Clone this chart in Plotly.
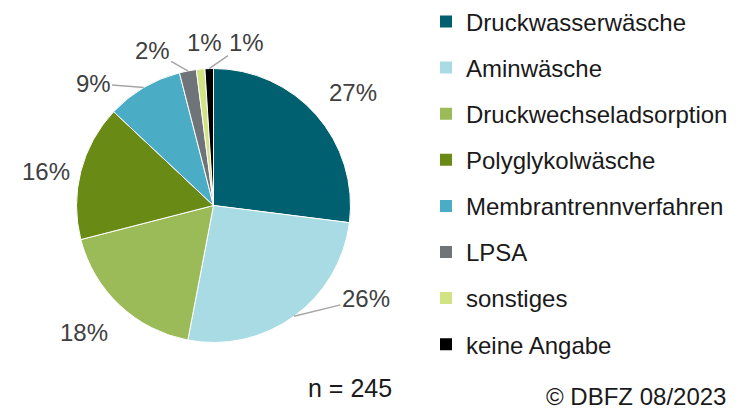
import math
import plotly.graph_objects as go

# ---- data ----
categories = ["Druckwasserwäsche", "Aminwäsche", "Druckwechseladsorption",
              "Polyglykolwäsche", "Membrantrennverfahren", "LPSA",
              "sonstiges", "keine Angabe"]
shares = [27, 26, 18, 16, 9, 2, 1, 1]
n_text = "n = 245"
source_text = "© DBFZ 08/2023"

# ---- styles / layout ----
colors = ["#00606F", "#A9DBE5", "#9BBB59", "#6A8A16", "#4BACC6",
          "#6F7479", "#D2E384", "#000000"]
FONT = "Liberation Sans"
OFF = 8                      # page body margin of the browser
W, H = 756 - OFF, 409 - OFF  # figure size so it fits the window
# pie centre / radius (screen px)
CX, CY, R = 213.5, 205.5, 137.0
# label placement (polar, clockwise from 12 o'clock) and leader-line flag
label_angle = [51.0, 121.4, 225.6, 281.5, 315.4, 338.4, 356.7, 11.6]
label_dist = [179.5, 178.6, 181.4, 170.9, 171.5, 166.8, 163.3, 166.4]
leader = [False, True, False, False, True, True, False, True]
LEG_FONT = 24
ROW = 46.1                   # legend row pitch in px


def px2x(px):
    return (px - OFF) / W


def py2y(py):
    return 1 - (py - OFF) / H


fig = go.Figure(go.Pie(
    labels=categories,
    values=shares,
    sort=False,
    direction="clockwise",
    rotation=0,
    marker=dict(colors=colors, line=dict(color="white", width=1)),
    textinfo="none",
    showlegend=False,
    domain=dict(x=[px2x(CX - R), px2x(CX + R)],
                y=[py2y(CY + R), py2y(CY - R)]),
    hoverinfo="label+value",
))

# legend entries (one per category, so that the row pitch can be set)
for cat, col in zip(categories, colors):
    fig.add_trace(go.Scatter(
        x=[None], y=[None], mode="markers", name=cat, legendgroup=cat,
        marker=dict(symbol="square", size=12, color=col),
        hoverinfo="skip",
    ))

# percentage labels, positioned from the slice geometry
total = sum(shares)
cum = 0.0
for v, ang, dist, has_line in zip(shares, label_angle, label_dist, leader):
    mid = (cum + v / 2) / total * 2 * math.pi
    cum += v
    lx = CX + dist * math.sin(math.radians(ang))
    ly = CY - dist * math.cos(math.radians(ang))
    txt = f"{v}%"
    fnt = dict(size=24, color="#404040", family=FONT)
    if has_line:
        px = CX + R * math.sin(mid)
        py = CY - R * math.cos(mid)
        fig.add_annotation(text=txt, x=px2x(px), y=py2y(py), xref="paper", yref="paper",
                           ax=lx - px, ay=ly - py, showarrow=True, arrowhead=0,
                           arrowwidth=1.5, arrowcolor="#A6A6A6", standoff=0,
                           startstandoff=0, font=fnt)
    else:
        fig.add_annotation(text=txt, x=px2x(lx), y=py2y(ly), xref="paper", yref="paper",
                           showarrow=False, xanchor="center", yanchor="middle", font=fnt)

fig.add_annotation(text=n_text, x=px2x(350), y=py2y(388), xref="paper", yref="paper",
                   showarrow=False, font=dict(size=25, color="#1a1a1a", family=FONT),
                   xanchor="center", yanchor="middle")
fig.add_annotation(text=source_text, x=px2x(636), y=-3 / H, xref="paper", yref="paper",
                   showarrow=False, font=dict(size=24, color="#1a1a1a", family=FONT),
                   xanchor="center", yanchor="bottom")

item_h = LEG_FONT * 1.3 + 3
fig.update_layout(
    width=W, height=H,
    margin=dict(l=0, r=0, t=0, b=0, autoexpand=False),
    paper_bgcolor="white",
    plot_bgcolor="white",
    font=dict(family=FONT, color="#1a1a1a"),
    showlegend=True,
    xaxis=dict(visible=False),
    yaxis=dict(visible=False),
    legend=dict(
        x=(426 - OFF) / W, y=1 + 8.6 / H, xanchor="left", yanchor="top",
        font=dict(size=LEG_FONT, family=FONT, color="#1a1a1a"),
        traceorder="grouped", tracegroupgap=ROW - item_h,
        bgcolor="rgba(0,0,0,0)", maxheight=H + 40,
    ),
)

fig.write_html("out.html")
